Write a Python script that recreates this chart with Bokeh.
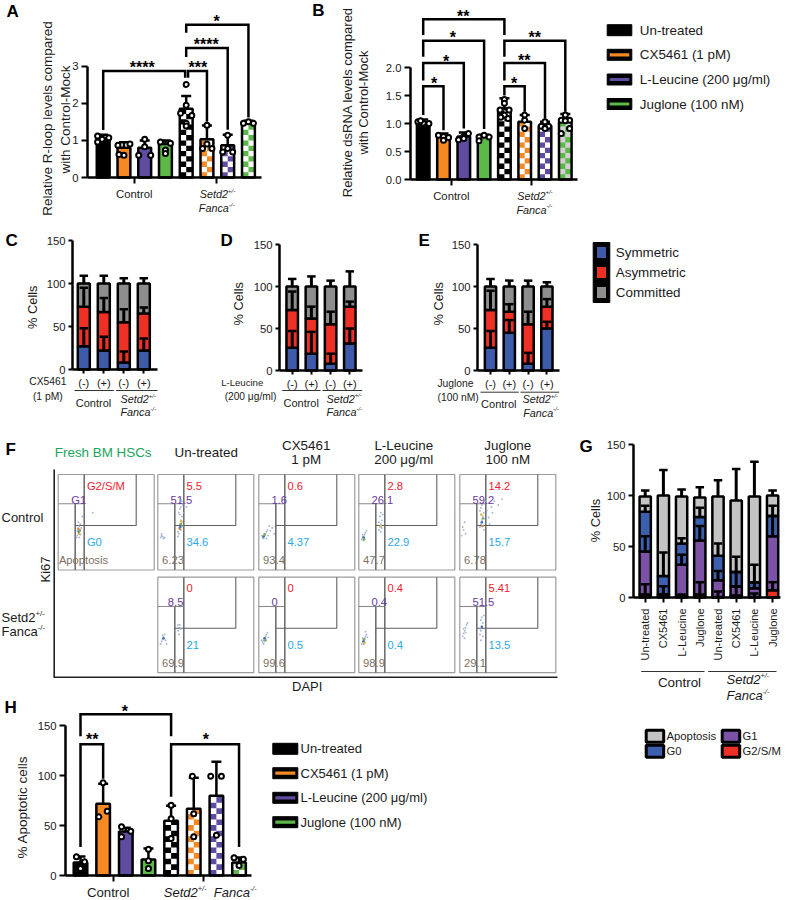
from math import pi, ceil
from bokeh.embed import file_html
from bokeh.resources import INLINE
from bokeh.plotting import figure
from bokeh.layouts import column, row
from bokeh.models import Range1d, Label, FixedTicker

FONT = "Liberation Sans"
BLACK, ORANGE, PURPLE, GREEN = "#000000", "#f58a25", "#5f4b9f", "#5cb947"
BAR_COLORS = [BLACK, ORANGE, PURPLE, GREEN]
BLUE_S, RED_S, GREY_S = "#3d5ba9", "#ee3124", "#8e8e8e"
G_BLUE, G_PURPLE, G_GREY = "#3c5fae", "#7b52a6", "#c4c4c4"
HOT_COLORS = ["#3f6fb0", "#7fae5a", "#e2c13a", "#d98a3a"]

TREATMENTS = ["Un-treated", "CX5461 (1 pM)", "L-Leucine (200 μg/ml)", "Juglone (100 nM)"]
FATES = ["Symmetric", "Asymmetric", "Committed"]
PHASES = ["Apoptosis", "G0", "G1", "G2/S/M"]

# ---- Panel A
A_VALUES = [1.05, 0.8, 0.8, 0.9, 1.85, 1.03, 0.87, 1.5]
A_ERR_TOP = [1.15, 0.95, 1.0, 1.0, 2.2, 1.4, 1.15, 1.53]
A_POINTS = [[1.12, 1.03, 1.07, 0.96], [0.87, 0.90, 0.60, 0.62], [1.03, 0.83, 0.6, 0.6], [0.96, 0.92, 0.74, 0.65],
            [2.51, 1.95, 1.73, 1.67, 1.46, 1.39], [1.41, 0.9, 0.78, 0.78], [1.14, 0.78, 0.69, 0.69], [1.46, 1.5, 1.46]]
A_JITTER = [[-.27, -.05, .27, -.27], [-.29, .29, 0, -.24], [0, 0, -.29, .29], [-.24, .24, 0, 0],
            [0, 0, -.27, .27, 0, 0], [0, 0, -.21, .24], [0, 0, -.24, .24], [-.24, 0, .24]]
# ---- Panel B
B_VALUES = [1.02, 0.76, 0.77, 0.76, 1.27, 1.03, 0.96, 1.03]
B_ERR_TOP = [1.07, 0.82, 0.84, 0.8, 1.45, 1.15, 1.03, 1.17]
B_POINTS = [[1.03, 1.01, 1.0, 1.05], [0.79, 0.77, 0.75, 0.70], [0.82, 0.77, 0.71, 0.73], [0.76, 0.79, 0.76, 0.69],
            [1.43, 1.36, 1.24, 1.24, 1.15, 1.11, 1.09], [1.15, 1.06, 0.91], [1.03, 0.95, 0.95, 0.91],
            [1.15, 1.06, 1.06, 1.05, 0.91, 0.82]]
B_JITTER = [[-.26, 0, .28, -.13], [-.25, 0, .25, 0], [.23, 0, -.26, 0], [-.25, 0, .25, -.25],
            [0, 0, -.21, .23, 0, -.18, .18], [0, 0, 0], [0, -.18, .18, 0], [0, -.2, .21, 0, .21, -.2]]
# ---- Panels C, D, E: stacked segments and upward errors
C_SYM, C_ASYM, C_COMM = [27, 22, 8, 22], [46, 45, 47, 43], [27, 33, 45, 35]
C_SYM_ERR, C_ASYM_ERR, C_COMM_ERR = [21, 16, 13, 14], [22, 16, 15, 7], [9, 9, 6, 6]
D_SYM, D_ASYM, D_COMM = [27, 20, 8, 32], [45, 42, 47, 44], [28, 38, 45, 24]
D_SYM_ERR, D_ASYM_ERR, D_COMM_ERR = [20, 26, 12, 18], [22, 14, 15, 6], [9, 12, 7, 18]
E_SYM, E_ASYM, E_COMM = [27, 45, 8, 50], [45, 25, 47, 26], [28, 30, 45, 24]
E_SYM_ERR, E_ASYM_ERR, E_COMM_ERR = [20, 15, 13, 8], [23, 9, 15, 9], [9, 7, 7, 5]
SIGN_LABELS = ["(-)", "(+)", "(-)", "(+)"]
# ---- Panel G
G_CATS = ["Un-treated", "CX5461", "L-Leucine", "Juglone", "Un-treated", "CX5461", "L-Leucine", "Juglone"]
G_G2M = [3, 1, 1, 3, .5, 2, .5, 7]
G_G1 = [42, 2, 31, 53, 16.5, 9, 8.5, 53]
G_G0 = [39, 18, 21, 23, 24, 14, 6, 20]
G_APO = [15, 79, 46, 19, 58, 70, 84, 20]
G_G2M_ERR = [10, 2, 2, 12, 5.5, 9, 3.5, 8]
G_G1_ERR = [15, 8, 10, 14, 9, 14, 6, 20]
G_G0_ERR = [6, 23, 5, 9, 12, 15, 17, 10]
G_APO_ERR = [6, 25, 7, 10, 16, 31, 34, 5]
# ---- Panel H
H_VALUES = [13, 72, 44, 16, 55, 67, 80, 13]
H_ERR_TOP = [19, 92, 48, 27, 70, 98, 114, 18]
H_POINTS = [[18.7, 13.7, 7], [93, 64.5, 58.8], [48.8, 44.4, 38.8], [26.4, 14.7, 7], [70.5, 57, 37],
            [99.6, 62, 38.8], [99.6, 99.6, 40.4], [17.7, 16.4, 10]]
H_JITTER = [[-.18, .18, 0], [0, .18, -.19], [-.19, .22, -.19], [0, 0, 0], [0, 0, 0],
            [-.06, 0, 0], [-.25, .22, 0], [-.22, .19, 0]]
# ---- Panel F: gate percentages (top row then bottom row)
F_HEADERS = ["Un-treated", "CX5461", "L-Leucine", "Juglone"]
F_SUBHEAD = ["", "1 pM", "200 μg/ml", "100 nM"]
F_RED = ["5.5", "0.6", "2.8", "14.2", "0", "0", "0.4", "5.41"]
F_PURPLE = ["51.5", "1.6", "26.1", "59.2", "8.5", "0", "0.4", "51.5"]
F_BLUE = ["34.6", "4.37", "22.9", "15.7", "21", "0.5", "0.4", "13.5"]
F_BROWN = ["6.23", "93.4", "47.7", "6.78", "69.9", "99.6", "98.9", "29.1"]
# Flow events: percent of plot width (x) and height (y), estimated
FLOW0_X = [20, 21, 22, 23, 21, 22, 20, 23, 24, 21, 22, 23, 36, 19, 25]
FLOW0_Y = [36, 38, 40, 42, 44, 46, 41, 37, 44, 50, 34, 48, 60, 34, 56]
FLOW1_X = [21, 22, 23, 24, 25, 22, 23, 24, 25, 26, 22, 24, 23, 25, 21, 27, 30, 3, 4, 5, 6, 4, 7, 24, 26, 23]
FLOW1_Y = [40, 44, 48, 52, 56, 60, 64, 42, 50, 46, 38, 66, 70, 72, 35, 60, 66, 34, 36, 35, 33, 38, 34, 74, 68, 58]
FLOW2_X = [4, 5, 6, 7, 8, 9, 10, 12, 14, 16, 5, 6, 8, 11, 3]
FLOW2_Y = [34, 35, 36, 38, 40, 42, 36, 41, 44, 38, 33, 38, 33, 46, 36]
FLOW3_X = [3, 4, 5, 6, 7, 5, 4, 6, 8, 21, 22, 23, 24, 22, 23, 24, 25, 21, 23]
FLOW3_Y = [32, 34, 35, 37, 39, 31, 37, 33, 41, 42, 45, 48, 52, 56, 40, 44, 58, 50, 60]
FLOW4_X = [21, 22, 23, 24, 25, 21, 22, 23, 24, 25, 26, 28, 30, 33, 36, 40, 44, 30, 34, 4, 3, 5, 6, 2, 24, 22, 27, 31]
FLOW4_Y = [45, 48, 52, 56, 60, 62, 65, 68, 70, 42, 54, 62, 70, 66, 72, 68, 74, 55, 60, 42, 45, 50, 38, 36, 46, 58, 72, 48]
FLOW5_X = [3, 4, 5, 6, 7, 8, 5, 9, 21, 22, 23, 22, 24, 21]
FLOW5_Y = [30, 33, 35, 37, 40, 34, 39, 30, 44, 47, 50, 40, 46, 50]
FLOW6_X = [4, 5, 6, 7, 8, 9, 5, 6, 7, 10, 3]
FLOW6_Y = [32, 34, 36, 38, 40, 42, 30, 33, 35, 37, 34]
FLOW7_X = [3, 4, 5, 6, 7, 8, 4, 5, 6, 9, 7]
FLOW7_Y = [30, 32, 34, 36, 38, 40, 36, 30, 32, 37, 43]
FLOW8_X = [3, 4, 5, 6, 7, 5, 6, 4, 8, 21, 22, 23, 24, 22, 23, 24, 21, 25, 22]
FLOW8_Y = [38, 41, 44, 47, 50, 36, 42, 46, 52, 40, 44, 48, 52, 55, 58, 38, 46, 60, 34]
FLOW_HOT_X = [[21.5, 22.5, 22, 21], [23.5, 24, 24.5, 23], [5, 6], [5, 5.5, 23], [23, 24, 22.5, 23.5], [6], [6, 7], [5, 5.5, 6], [23]]
FLOW_HOT_Y = [[40, 41, 38, 43], [45, 48, 51, 43], [35, 37], [34, 32, 46], [50, 54, 58, 46], [36], [36, 34], [33, 35, 31], [48]]

MAPS = {}


def px2x(p, v):
    return MAPS[p.id][0](v)


def px2y(p, v):
    return MAPS[p.id][1](v)


def txt(p, px, py, text, size=11.3, color="#1a1a1a", align="left", base="middle", angle=0, style="normal"):
    p.add_layout(Label(x=px2x(p, px), y=px2y(p, py), text=text, text_font=FONT, text_font_size=f"{size}px",
                       text_color=color, text_align=align, text_baseline=base, angle=angle,
                       text_font_style=style, x_units="data", y_units="data"))


def sup(p, px, py, name, mark, size, em, color="#1a1a1a"):
    txt(p, px, py, name, size, color, style="italic")
    txt(p, px + size * em, py - size * .3, mark, size * .55, color, style="italic")


def sup_roman(p, px, py, name, mark, size, em):
    txt(p, px, py, name, size)
    txt(p, px + size * em, py - size * .3, mark, size * .6)


def setd2(p, px, py, size):
    sup(p, px, py, "Setd2", "+/-", size, 2.613)


def fanca(p, px, py, size):
    sup(p, px, py, "Fanca", "-/-", size, 2.779)


def canvas(x0, y0, w, h):
    p = figure(width=w, height=h, output_backend="svg", toolbar_location=None, x_range=Range1d(x0, x0 + w),
               y_range=Range1d(y0 + h, y0), min_border=0, outline_line_color=None)
    p.axis.visible = False
    p.grid.visible = False
    MAPS[p.id] = (lambda v: v, lambda v: v)
    return p


def chart(x0, y0, w, h, ax_x, ax_y0, ax_end, bar0, step, ppu, yticks, xticks, xlabels,
          xsize=11.3, tick=6, standoff=4, yfmt=None, orient=None):
    fx = lambda v: (v - bar0) / step
    fy = lambda v: (ax_y0 - v) / ppu
    p = figure(width=w, height=h, output_backend="svg", toolbar_location=None,
               x_range=Range1d(fx(x0), fx(x0 + w)), y_range=Range1d(fy(y0 + h), fy(y0)),
               min_border=0, outline_line_color=None)
    MAPS[p.id] = (fx, fy)
    p.grid.visible = False
    ya, xa = p.yaxis[0], p.xaxis[0]
    ya.fixed_location = fx(ax_x)
    xa.fixed_location = 0
    ya.ticker = FixedTicker(ticks=yticks)
    ya.bounds = (yticks[0], yticks[-1])
    xa.ticker = FixedTicker(ticks=xticks)
    xa.bounds = (fx(ax_x), fx(ax_end))
    xa.major_label_overrides = dict(zip(xticks, xlabels))
    if yfmt:
        ya.major_label_overrides = {t: yfmt.format(t) for t in yticks}
    for ax in (xa, ya):
        ax.axis_line_width = 2.5
        ax.major_tick_line_width = 2
        ax.major_tick_in = 0
        ax.major_tick_out = tick
        ax.minor_tick_line_color = None
        ax.major_label_text_font = FONT
        ax.major_label_text_color = "#1a1a1a"
    ya.major_label_text_font_size = "11.3px"
    ya.major_label_standoff = 3
    xa.major_label_text_font_size = f"{xsize}px"
    xa.major_label_standoff = standoff
    if orient:
        xa.major_label_orientation = orient
    return p


def checker_bars(p, values, width=.62, cell_px=5.3, papers=None):
    ppu = 1 / abs(px2y(p, 1) - px2y(p, 0))
    ch = cell_px / ppu
    for i, v in enumerate(values):
        col = BAR_COLORS[i % 4]
        if i < 4:
            p.vbar(x=[i], top=[v], width=width, fill_color=col, line_color="black", line_width=2.5)
            continue
        p.vbar(x=[i], top=[v], width=width, fill_color=(papers or {}).get(i, "white"), line_color=None)
        lefts, rights, bottoms, tops = [], [], [], []
        for r in range(ceil(v / ch)):
            c = r % 2
            lefts.append(i - width / 2 + c * width / 2)
            rights.append(i - width / 2 + (c + 1) * width / 2)
            bottoms.append(r * ch)
            tops.append(min((r + 1) * ch, v))
        p.quad(left=lefts, right=rights, bottom=bottoms, top=tops, fill_color=col, line_color=None)
        p.vbar(x=[i], top=[v], width=width, fill_color=None, line_color="black", line_width=2.5)


def errors(p, xs, tops, bases, cap=10, lw=2.5):
    p.segment(x0=xs, y0=bases, x1=xs, y1=tops, line_color="black", line_width=lw)
    p.scatter(x=xs, y=tops, marker="dash", size=cap, line_color="black", line_width=2.5)


def dots(p, pts, jit):
    xs = [i + j for i, jr in enumerate(jit) for j in jr]
    ys = [v for row_ in pts for v in row_]
    p.scatter(x=xs, y=ys, marker="circle", size=5, fill_color="white", line_color="black", line_width=2)


def bracket(p, x1, x2, y1, top, y2):
    p.line(x=[x1, x1, x2, x2], y=[y1, top, top, y2], line_color="black", line_width=2.5, line_join="miter")


def stars(p, px, py, n):
    txt(p, px, py + 4.5, "*" * n, 16, "black", "center", "alphabetic", style="bold")


def stacked(p, segments, errs, colors, width):
    xs = list(range(len(segments[0])))
    bottom = [0] * len(xs)
    spans = []
    for seg, col in zip(segments, colors):
        top = [b_ + s for b_, s in zip(bottom, seg)]
        p.vbar(x=xs, bottom=bottom, top=top, width=width, fill_color=col, line_color="black", line_width=2.5)
        spans.append(top)
        bottom = top
    for top, er in zip(spans, errs):
        errors(p, xs, [t + v for t, v in zip(top, er)], top, cap=8.5, lw=3)


def rule(p, px0, px1, py, width=1):
    y = px2y(p, py)
    p.line(x=[px2x(p, px0), px2x(p, px1)], y=[y, y], line_color="#333333", line_width=width)


# ===== A
a = chart(0, 0, 296, 222, 87, 177, 261, 102.7, 20.75, 37.1, [0, 1, 2, 3], [1.5, 5.46], ["Control", ""])
checker_bars(a, A_VALUES)
errors(a, list(range(8)), A_ERR_TOP, A_VALUES)
dots(a, A_POINTS, A_JITTER)
bracket(a, 0, 3.95, 1.28, 2.87, 2.69)
bracket(a, 4.09, 5, 2.69, 2.87, 1.5)
bracket(a, 4, 6, 3.25, 3.49, 1.29)
bracket(a, 4, 7, 3.9, 4.12, 1.62)
stars(a, 141.7, 62, 4); stars(a, 197.3, 62.3, 3); stars(a, 205.7, 39.3, 4); stars(a, 216, 16, 1)
txt(a, 6, 11, "A", 17, "black", style="bold")
txt(a, 47.3, 118, "Relative R-loop levels compared", 13.5, align="center", angle=pi / 2)
txt(a, 65, 119, "with Control-Mock", 13.5, align="center", angle=pi / 2)
setd2(a, 199.3, 193.3, 10.8); fanca(a, 198.3, 207.7, 10.8)

# ===== B
b = chart(296, 0, 304, 222, 410, 179, 577, 422.7, 20.3, 56, [0, .5, 1, 1.5, 2], [1.39, 5.35], ["Control", ""], yfmt="{:.1f}")
checker_bars(b, B_VALUES, papers={7: "#d2d2d2"})
errors(b, list(range(8)), B_ERR_TOP, B_VALUES)
dots(b, B_POINTS, B_JITTER)
bracket(b, 0, 1, 1.15, 1.667, .88)
bracket(b, 0, 2, 1.77, 2.08, .91)
bracket(b, 0, 3, 2.19, 2.476, .9)
bracket(b, 0, 4, 2.58, 2.86, 2.58)
bracket(b, 4, 5, 1.5, 1.667, 1.21)
bracket(b, 4, 6, 1.77, 2.08, 1.09)
bracket(b, 4, 7, 2.19, 2.476, 1.21)
stars(b, 462.7, 11, 2); stars(b, 452.3, 32, 1); stars(b, 445.7, 56, 1); stars(b, 433.7, 78, 1)
stars(b, 534.3, 32, 2); stars(b, 523.7, 55, 2); stars(b, 513.7, 78.7, 1)
txt(b, 311.7, 10, "B", 17, "black", style="bold")
txt(b, 347.3, 101.7, "Relative dsRNA levels compared", 13, align="center", angle=pi / 2)
txt(b, 363.3, 102, "with Control-Mock", 13, align="center", angle=pi / 2)
setd2(b, 516.7, 195, 10.8); fanca(b, 516, 209, 10.8)


def legend_stripes(p, x0, x1, x_text, ys, labels, size, hh=11):
    for y, lab, col in zip(ys, labels, BAR_COLORS):
        p.quad(left=[x0], right=[x1], top=[y - hh / 2], bottom=[y + hh / 2], fill_color="black", line_color="black")
        p.quad(left=[x0 + 2.5], right=[x1 - 2.5], top=[y - 1.6], bottom=[y + 1.6], fill_color=col, line_color=None)
        txt(p, x_text, y, lab, size)


leg1 = canvas(600, 0, 186, 222)
legend_stripes(leg1, 606.7, 631.3, 639.3, [29.7, 54.3, 79, 103.5], TREATMENTS, 13.4)


# ===== C D E
def cde(x0, w, ax_x, ax_y0, ax_end, bar0, step, ppu, segs, errs):
    p = chart(x0, 222, w, 196, ax_x, ax_y0, ax_end, bar0, step, ppu, [0, 50, 100, 150], [0, 1, 2, 3], SIGN_LABELS,
              xsize=11, tick=4, standoff=3)
    stacked(p, segs, errs, [BLUE_S, RED_S, GREY_S], .6)
    return p


c = cde(0, 215, 72, 369, 157, 83.3, 20, .86, [C_SYM, C_ASYM, C_COMM], [C_SYM_ERR, C_ASYM_ERR, C_COMM_ERR])
txt(c, 5, 240, "C", 17, "black", style="bold")
txt(c, 31.7, 306.7, "% Cells", 12.8, align="center", angle=pi / 2)
txt(c, 47.3, 381.3, "CX5461", 10.3, align="center"); txt(c, 47.3, 395.7, "(1 pM)", 10.3, align="center")
rule(c, 74, 113.3, 390); rule(c, 115.7, 157, 390)
txt(c, 93, 402.3, "Control", 11, align="center")
setd2(c, 120, 398.3, 10.8); fanca(c, 120, 411.7, 10.8)

d = cde(215, 197, 279, 370, 362, 291.7, 19.2, .84, [D_SYM, D_ASYM, D_COMM], [D_SYM_ERR, D_ASYM_ERR, D_COMM_ERR])
txt(d, 220, 240, "D", 17, "black", style="bold")
txt(d, 238.3, 303.3, "% Cells", 12.8, align="center", angle=pi / 2)
txt(d, 241.7, 381.7, "L-Leucine", 9.6, align="center"); txt(d, 250, 396, "(200 μg/ml)", 10.2, align="center")
rule(d, 281.7, 320, 390); rule(d, 322, 361.7, 390)
txt(d, 300.7, 402.3, "Control", 11, align="center")
setd2(d, 326, 398, 10.8); fanca(d, 326, 411.7, 10.8)

e = cde(412, 173, 477, 370, 559, 490, 18.8, .84, [E_SYM, E_ASYM, E_COMM], [E_SYM_ERR, E_ASYM_ERR, E_COMM_ERR])
txt(e, 418, 240, "E", 17, "black", style="bold")
txt(e, 438.3, 303.3, "% Cells", 12.8, align="center", angle=pi / 2)
txt(e, 455, 382.7, "Juglone", 10.3, align="center"); txt(e, 457.7, 396.7, "(100 nM)", 10.3, align="center")
rule(e, 480, 518.3, 391.7); rule(e, 520, 558.7, 391.7)
txt(e, 498.3, 403.3, "Control", 11, align="center")
setd2(e, 522, 398.7, 10.8); fanca(e, 522.7, 412, 10.8)

leg2 = canvas(585, 222, 201, 196)
for yc, lab, col in zip([252, 272, 292], FATES, [BLUE_S, RED_S, GREY_S]):
    leg2.quad(left=[592.7], right=[609.3], top=[yc - 10], bottom=[yc + 10], fill_color="black", line_color="black")
    leg2.quad(left=[596.5], right=[605.5], top=[yc - 5.5], bottom=[yc + 5.5], fill_color=col, line_color=None)
    txt(leg2, 615.3, yc, lab, 13.4)

# ===== F
f = canvas(0, 418, 572, 280)
f.line(x=[53.7, 53.7, 557], y=[469, 676.7, 676.7], line_color="#222222", line_width=1.6, line_join="miter")
F_COLS = [157.3, 258.3, 358.3, 459.3]
F_ROWS = [474, 576.7]
PW, PH = 96, 95.5


def gates(x0, y0, g1_from=17):
    f.quad(left=[x0], right=[x0 + PW], top=[y0], bottom=[y0 + PH], fill_color=None, line_color="#9c9c9c", line_width=1.2)
    f.line(x=[x0, x0 + 26], y=[y0 + 29.3, y0 + 29.3], line_color="#8a8a8a", line_width=1.1)
    f.line(x=[x0 + g1_from, x0 + g1_from], y=[y0 + 29.3, y0 + PH], line_color="#707070", line_width=1.6)
    f.line(x=[x0 + 26, x0 + 26], y=[y0, y0 + PH], line_color="#707070", line_width=1.6)
    f.line(x=[x0 + 17, x0 + 78, x0 + 78], y=[y0 + 51, y0 + 51, y0], line_color="#606060", line_width=1.1)


def events(x0, y0, xs, ys, hx, hy):
    f.scatter(x=[x0 + PW * v / 100 for v in xs], y=[y0 + PH - PH * v / 100 for v in ys], marker="circle", size=1.9,
              fill_color="#8fa3cf", line_color=None, fill_alpha=.8)
    f.scatter(x=[x0 + PW * v / 100 for v in hx], y=[y0 + PH - PH * v / 100 for v in hy], marker="circle", size=2.6,
              fill_color=[HOT_COLORS[i % 4] for i in range(len(hx))], line_color=None)


FLOWS = [(FLOW1_X, FLOW1_Y), (FLOW2_X, FLOW2_Y), (FLOW3_X, FLOW3_Y), (FLOW4_X, FLOW4_Y),
         (FLOW5_X, FLOW5_Y), (FLOW6_X, FLOW6_Y), (FLOW7_X, FLOW7_Y), (FLOW8_X, FLOW8_Y)]
gates(57.7, 474)
events(57.7, 474, FLOW0_X, FLOW0_Y, FLOW_HOT_X[0], FLOW_HOT_Y[0])
RED_T, PUR_T, BLU_T, BRO_T = "#ee1c2e", "#6a3aa0", "#29a9e6", "#7b6f63"
txt(f, 86.4, 485, "G2/S/M", 11.2, RED_T); txt(f, 70.7, 499, "G1", 11.2, PUR_T)
txt(f, 86.4, 541.3, "G0", 11.2, BLU_T); txt(f, 58.4, 559.7, "Apoptosis", 11.2, BRO_T)
idx = 0
for y0 in F_ROWS:
    for x0 in F_COLS:
        gates(x0, y0)
        fx_, fy_ = FLOWS[idx]
        events(x0, y0, fx_, fy_, FLOW_HOT_X[idx + 1], FLOW_HOT_Y[idx + 1])
        txt(f, x0 + 28.7, y0 + 11, F_RED[idx], 11.2, RED_T)
        txt(f, x0 + 12.7 if F_PURPLE[idx] != "8.5" else x0 + 10, y0 + 25, F_PURPLE[idx], 11.2, PUR_T)
        txt(f, x0 + 28.7, y0 + 67.3, F_BLUE[idx], 11.2, BLU_T)
        txt(f, x0 + 4.3, y0 + 85.7, F_BROWN[idx], 11.2, BRO_T)
        idx += 1
txt(f, 54.3, 452.3, "Fresh BM HSCs", 13.4, "#1aa55c")
txt(f, 205.7, 452.3, F_HEADERS[0], 13.4, align="center")
for cx, head, subh in zip([305.7, 403.3, 507.3], F_HEADERS[1:], F_SUBHEAD[1:]):
    txt(f, cx, 445, head, 13.4, align="center")
    txt(f, cx, 459.3, subh, 13.4, align="center")
txt(f, 1, 517.3, "Control", 13)
sup_roman(f, 1, 617.3, "Setd2", "+/-", 13, 2.613)
sup_roman(f, 1, 631, "Fanca", "-/-", 13, 2.779)
txt(f, 45, 569, "Ki67", 13, align="center", angle=pi / 2)
txt(f, 306.7, 686, "DAPI", 13, align="center")
txt(f, 5, 449, "F", 17, "black", style="bold")

# ===== H
h = chart(0, 698, 262, 202, 65, 875, 251, 80, 22.65, .9973, [0, 50, 100, 150], [1.44, 5.44], ["", ""])
checker_bars(h, H_VALUES, width=.6, cell_px=5.6)
errors(h, list(range(8)), H_ERR_TOP, H_VALUES)
dots(h, H_POINTS, H_JITTER)
bracket(h, 0, 1, 28.7, 131.6, 97)
bracket(h, 0, 4, 139.7, 161.7, 139.7)
bracket(h, 4, 7, 79, 131.6, 28.7)
stars(h, 91.7, 734.3, 2); stars(h, 124.3, 706.7, 1); stars(h, 205.3, 734.3, 1)
txt(h, 4, 707, "H", 17, "black", style="bold")
txt(h, 22.3, 806.7, "% Apoptotic cells", 13.5, align="center", angle=pi / 2)
txt(h, 107.7, 892, "Control", 13.2, align="center")
setd2(h, 163.3, 892, 13); fanca(h, 213.3, 892, 13)

leg3 = canvas(262, 698, 310, 202)
legend_stripes(leg3, 272.3, 297.3, 300, [748.3, 772.7, 797.3, 821.7], TREATMENTS, 13)

left_col = column(f, row(h, leg3))

# ===== G
g = chart(572, 418, 214, 482, 633, 597, 780, 644.7, 18.2, 1.02, [0, 50, 100, 150], list(range(8)), G_CATS,
          xsize=11, tick=5, standoff=6, orient=pi / 2)
stacked(g, [G_G2M, G_G1, G_G0, G_APO], [G_G2M_ERR, G_G1_ERR, G_G0_ERR, G_APO_ERR],
        [RED_S, G_PURPLE, G_BLUE, G_GREY], .62)
txt(g, 579, 446, "G", 17, "black", style="bold")
txt(g, 595, 520, "% Cells", 12.8, align="center", angle=pi / 2)
rule(g, 640.7, 704, 671); rule(g, 707.7, 776, 671)
txt(g, 679, 681.7, "Control", 13.4, align="center")
setd2(g, 726, 679.3, 13); fanca(g, 726, 695, 13)
for bx, by, txx, lab, col in zip([645.7, 645.7, 721.7, 721.7], [735.7, 750.7, 735.7, 750.7], [666, 666, 742, 742],
                                 PHASES, [G_GREY, G_BLUE, G_PURPLE, RED_S]):
    g.quad(left=[px2x(g, bx)], right=[px2x(g, bx + 17.5)], top=[px2y(g, by - 6)], bottom=[px2y(g, by + 6)],
           fill_color=col, line_color="black", line_width=3)
    txt(g, txx, by, lab, 11.3)

layout = column(row(a, b, leg1), row(c, d, e, leg2), row(left_col, g))
open("out.html", "w").write(file_html(layout, INLINE))
